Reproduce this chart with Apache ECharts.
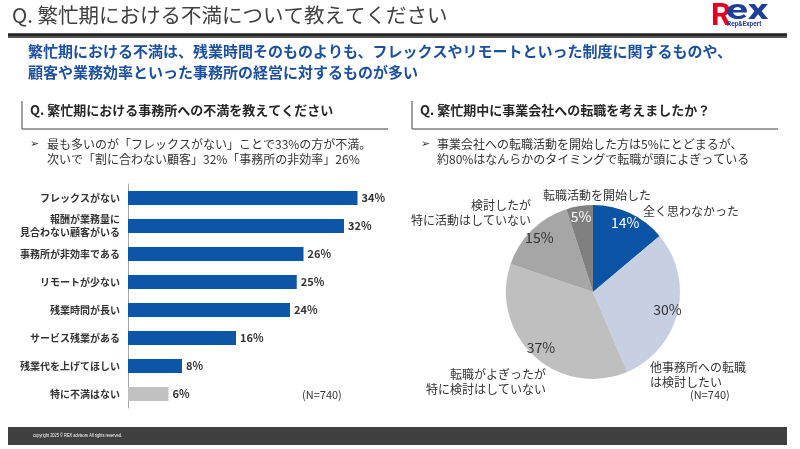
<!DOCTYPE html>
<html>
<head>
<meta charset="utf-8">
<script src="https://cdn.jsdelivr.net/npm/echarts@6/dist/echarts.min.js"></script>
<style>
  html, body { margin: 0; padding: 0; background: #fff; }
  #chart { width: 800px; height: 449px; }
</style>
</head>
<body>
<div id="chart"></div>
<script>
// 左：事務所への不満
const barCategories = [
  'フレックスがない',
  '報酬が業務量に\n見合わない顧客がいる',
  '事務所が非効率である',
  'リモートが少ない',
  '残業時間が長い',
  'サービス残業がある',
  '残業代を上げてほしい',
  '特に不満はない'
]
const barValues = [34, 32, 26, 25, 24, 16, 8, 6]

// 右：事業会社への転職
const pieNames = [
  '全く思わなかった',
  '他事務所への転職\nは検討したい',
  '転職がよぎったが\n特に検討はしていない',
  '検討したが\n特に活動はしていない',
  '転職活動を開始した'
]
const pieValues = [14, 30, 37, 15, 5]
const pieColors = ['#0b53a4', '#c6d0e2', '#bfbfbf', '#a6a6a6', '#808080']

const FONT = '"Noto Sans CJK JP", "Noto Sans", sans-serif'
const BLUE = '#0d55a6'

// 外側ラベルの位置
const pieLabelPos = [
  { x: 643, y: 211, align: 'left' },
  { x: 650, y: 375, align: 'left' },
  { x: 546, y: 382, align: 'right' },
  { x: 531, y: 213, align: 'right' },
  { x: 543, y: 195, align: 'left' }
]

const chart = echarts.init(document.getElementById('chart'))

const txt = (x, y, text, style, extra) => Object.assign({
  type: 'text', left: x, top: y,
  style: Object.assign({ text, fontFamily: FONT, fill: '#333' }, style)
}, extra || {})

const option = {
  animation: false,
  textStyle: { fontFamily: FONT },
  grid: { left: 128, top: 184, width: 270, height: 224 },
  xAxis: { type: 'value', min: 0, max: 40, show: false },
  yAxis: {
    type: 'category',
    inverse: true,
    data: barCategories,
    axisLine: { lineStyle: { color: '#a6a6a6', width: 1 } },
    axisTick: { show: false },
    axisLabel: {
      color: '#333', fontSize: 10, fontWeight: 'bold', lineHeight: 13, margin: 8
    }
  },
  series: [
    {
      type: 'bar',
      barWidth: 14,
      data: barValues.map((v, i) => ({
        value: v,
        itemStyle: { color: i === barValues.length - 1 ? '#c0c0c0' : BLUE }
      })),
      label: {
        show: true, position: 'right', distance: 4,
        formatter: '{c}%', color: '#333', fontSize: 11, fontWeight: 'bold'
      }
    },
    {
      type: 'pie',
      center: [593, 292],
      radius: [0, 87],
      startAngle: 90,
      clockwise: true,
      data: pieValues.map((v, i) => ({
        value: v, name: pieNames[i], itemStyle: { color: pieColors[i] }
      })),
      label: {
        show: true, position: 'outside', formatter: '{b}', overflow: 'none',
        color: '#333', fontSize: 12, lineHeight: 15
      },
      labelLine: { show: false },
      labelLayout: (p) => {
        const pos = pieLabelPos[p.dataIndex]
        return { x: pos.x, y: pos.y, align: pos.align, verticalAlign: 'middle', width: 200 }
      }
    },
    {
      // パーセント表示用の透明レイヤー
      type: 'pie',
      center: [593, 292],
      radius: [60, 87],
      startAngle: 90,
      clockwise: true,
      silent: true,
      data: pieValues.map((v, i) => ({
        value: v, name: pieNames[i],
        itemStyle: { color: 'rgba(0,0,0,0)' },
        label: { color: i === 0 || i === 4 ? '#fff' : '#333' }
      })),
      label: {
        show: true, position: 'inside', formatter: '{c}%', fontSize: 14
      },
      labelLine: { show: false }
    }
  ],
  graphic: [
    // タイトル
    txt(12, 5, 'Q. 繁忙期における不満について教えてください', { fontSize: 20.5, fill: '#404040' }),
    { type: 'rect', shape: { x: 8, y: 33, width: 779, height: 5 }, style: { fill: '#555' } },
    { type: 'rect', shape: { x: 8, y: 34, width: 779, height: 2 }, style: { fill: '#262626' } },
    // ロゴ
    txt(711, 2, 'R', { fontSize: 31, fontWeight: 'bold', fill: '#e60020', fontFamily: 'Roboto' }),
    txt(0, 0, 'ex', { fontSize: 27, fontWeight: 'bold', fill: '#1d3f9a', fontFamily: 'Roboto' },
      { left: null, top: null, x: 726, y: -1, scaleX: 1.5 }),
    txt(727, 21, 'Rep&Expert', { fontSize: 6.5, fontWeight: 'bold', fill: '#1d3f9a', fontFamily: 'Roboto' }),
    // サブタイトル
    txt(28, 41, '繁忙期における不満は、残業時間そのものよりも、フレックスやリモートといった制度に関するものや、\n顧客や業務効率といった事務所の経営に対するものが多い',
      { fontSize: 15, fontWeight: 'bold', fill: '#1b4f9f', lineHeight: 21 }),
    // 左見出し
    { type: 'polyline', shape: { points: [[22, 101], [22, 129], [388, 129]] }, style: { stroke: '#404040', lineWidth: 1, fill: null } },
    txt(30, 104, 'Q. 繁忙期における事務所への不満を教えてください', { fontSize: 13, fontWeight: 'bold', fill: '#262626' }),
    txt(30, 137, '➢', { fontSize: 11, fill: '#333' }),
    txt(47, 137, '最も多いのが「フレックスがない」ことで33%の方が不満。\n次いで「割に合わない顧客」32%「事務所の非効率」26%',
      { fontSize: 12, lineHeight: 15, fill: '#333' }),
    txt(302, 389, '(N=740)', { fontSize: 11, fill: '#333' }),
    // 右見出し
    { type: 'polyline', shape: { points: [[412, 101], [412, 129], [778, 129]] }, style: { stroke: '#404040', lineWidth: 1, fill: null } },
    txt(420, 104, 'Q. 繁忙期中に事業会社への転職を考えましたか？', { fontSize: 13, fontWeight: 'bold', fill: '#262626' }),
    txt(421, 137, '➢', { fontSize: 11, fill: '#333' }),
    txt(437, 137, '事業会社への転職活動を開始した方は5%にとどまるが、\n約80%はなんらかのタイミングで転職が頭によぎっている',
      { fontSize: 12, lineHeight: 15, fill: '#333' }),
    txt(690, 389, '(N=740)', { fontSize: 11, fill: '#333' }),
    // フッター
    { type: 'rect', shape: { x: 8, y: 427, width: 779, height: 18 }, style: { fill: '#404040' } },
    txt(0, 0, 'copyright 2025 © REX advisors All rights reserved.', { fontSize: 6, fill: '#fff', fontFamily: '"Liberation Sans", sans-serif' },
      { left: null, top: null, x: 33, y: 432, scaleX: 0.66 })
  ]
}

chart.setOption(option)
</script>
</body>
</html>
